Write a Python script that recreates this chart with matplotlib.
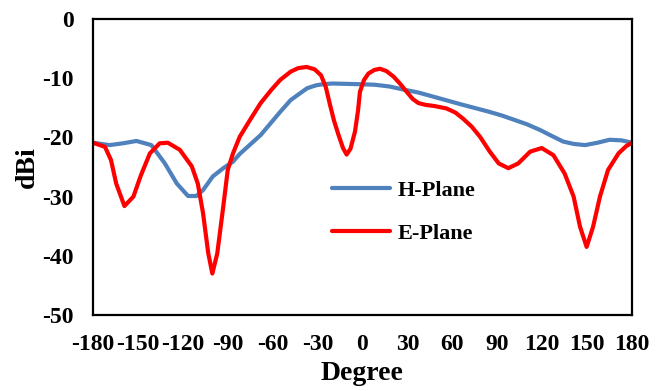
import matplotlib
matplotlib.use("Agg")
import matplotlib.pyplot as plt

# H-Plane gain pattern
h_deg = [-180, -169, -160, -151, -141, -132, -124, -116.5, -111, -106.5, -100,
         -93, -86.5, -82, -75, -68, -61, -55, -48, -42, -37, -31, -26, -20,
         -4, 8, 18, 27, 37, 47, 57, 67, 76, 85, 93, 101, 110, 118.6, 126,
         134, 141, 148.6, 157, 165, 173, 180]
h_dbi = [-20.9, -21.3, -21.0, -20.6, -21.3, -24.4, -27.8, -29.9, -29.9, -28.9,
         -26.6, -25.2, -24.1, -22.8, -21.2, -19.6, -17.5, -15.7, -13.7, -12.6,
         -11.7, -11.2, -11.0, -10.9, -11.0, -11.1, -11.4, -11.9, -12.4, -13.1,
         -13.8, -14.5, -15.1, -15.7, -16.3, -17.0, -17.8, -18.75, -19.7,
         -20.7, -21.1, -21.3, -20.9, -20.4, -20.5, -20.9]

# E-Plane gain pattern
e_deg = [-180, -172, -168, -164.5, -159, -153, -148, -142, -135.5, -130, -122,
         -114, -110, -106.5, -103, -100.3, -97, -93, -90, -86.5, -82, -75,
         -68, -61, -55, -48, -43, -37.3, -32, -27.7, -24.5, -21.7, -19, -16,
         -13, -10.6, -8, -5, -3, -1.7, 1, 4, 8, 11.7, 16, 20.6, 25, 29.5,
         33.5, 37.3, 42, 48, 56, 62, 67, 73, 78.5, 85, 91, 97.4, 104, 112,
         119.7, 127.5, 135, 141, 145.3, 149.7, 154, 158.6, 164, 171, 176,
         180]
e_dbi = [-20.9, -21.6, -23.8, -27.8, -31.6, -30.0, -26.4, -22.7, -21.0, -20.9,
         -22.1, -24.9, -27.8, -32.8, -39.6, -43.0, -39.6, -31.7, -25.5, -22.7,
         -19.9, -17.0, -14.2, -12.0, -10.3, -8.9, -8.3, -8.1, -8.5, -9.5,
         -11.5, -14.5, -17.2, -19.6, -21.8, -22.9, -21.9, -19.0, -15.5, -12.3,
         -10.3, -9.2, -8.6, -8.4, -8.8, -9.7, -10.9, -12.3, -13.5, -14.2,
         -14.5, -14.7, -15.1, -15.8, -16.8, -18.2, -19.9, -22.4, -24.4, -25.2,
         -24.4, -22.4, -21.8, -23.0, -26.1, -30.0, -35.1, -38.5, -35.1, -30.0,
         -25.5, -22.7, -21.5, -20.9]

xticks = list(range(-180, 181, 30))
yticks = list(range(-50, 1, 10))

plt.rcParams["font.family"] = ["Liberation Serif", "DejaVu Serif"]
plt.rcParams["font.weight"] = "bold"
plt.rcParams["axes.unicode_minus"] = False

fig = plt.figure(figsize=(6.69, 3.91), dpi=100)
ax = fig.add_axes([0.139, 0.1944, 0.8057, 0.757])

ax.plot(h_deg, h_dbi, color="#4F81BD", lw=3, solid_joinstyle="round",
        solid_capstyle="round", label="H-Plane")
ax.plot(e_deg, e_dbi, color="#FF0000", lw=3, solid_joinstyle="round",
        solid_capstyle="round", label="E-Plane")

ax.set_xlim(-180, 180)
ax.set_ylim(-50, 0)
ax.set_xticks(xticks)
ax.set_yticks(yticks)
ax.tick_params(length=0, pad=14, labelsize=17)
for lbl in ax.get_xticklabels() + ax.get_yticklabels():
    lbl.set_fontweight("bold")
for s in ax.spines.values():
    s.set_linewidth(1.6)
    s.set_color("black")

ax.set_xlabel("Degree", fontsize=20, fontweight="bold")
ax.set_ylabel("dBi", fontsize=20, fontweight="bold")
ax.xaxis.set_label_coords(0.5, -0.196)
ax.yaxis.set_label_coords(-0.122, 0.5)
ax.xaxis.label.set_va("center")
ax.yaxis.label.set_va("center")

ax.legend(loc="upper left", bbox_to_anchor=(0.4434, 0.455), frameon=False,
          borderaxespad=0, borderpad=0, handlelength=2.6, handletextpad=0.35,
          labelspacing=1.0, prop={"size": 16, "weight": "bold"})

fig.savefig("out.png", dpi=100)
